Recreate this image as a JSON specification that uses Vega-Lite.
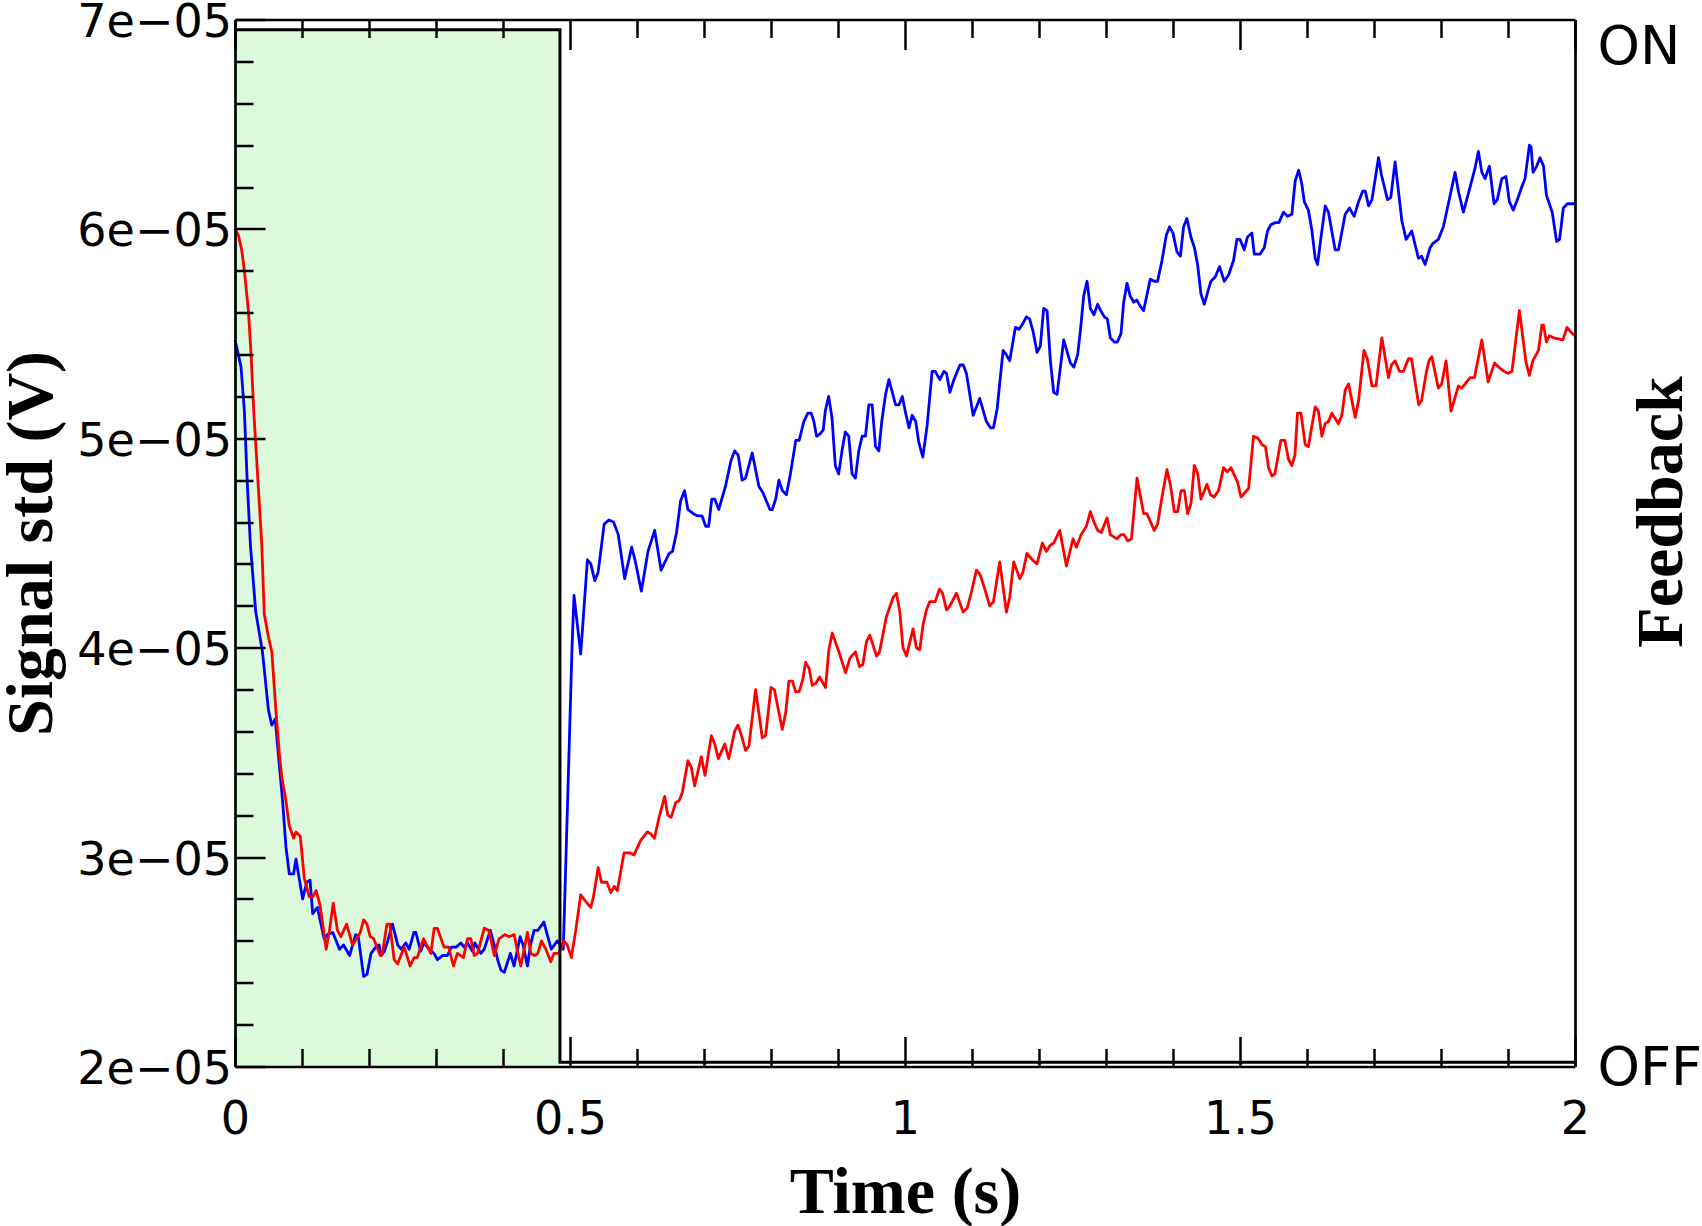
{
"$schema": "https://vega.github.io/schema/vega-lite/v6.json",
"width": 1340, "height": 1047,
"autosize": {"type": "none"},
"padding": {"left": 235, "top": 19.5, "right": 127, "bottom": 159.5},
"background": "white",
"config": {"view": {"stroke": null}},
"datasets": {
"feedback_on": [{"t_start": 0, "t_end": 0.485, "state": 1}],
"feedback": [{"t": 0, "state": 1}, {"t": 0.485, "state": 0}, {"t": 2, "state": 0}],
"signal_a": [
{"t":0,"v":5.47e-5},{"t":0.005,"v":5.40e-5},{"t":0.009,"v":5.34e-5},{"t":0.014,"v":5.13e-5},{"t":0.018,"v":4.81e-5},{"t":0.023,"v":4.49e-5},{"t":0.031,"v":4.17e-5},{"t":0.041,"v":3.98e-5},{"t":0.05,"v":3.70e-5},{"t":0.055,"v":3.63e-5},{"t":0.06,"v":3.66e-5},{"t":0.065,"v":3.48e-5},{"t":0.071,"v":3.27e-5},{"t":0.076,"v":3.05e-5},{"t":0.081,"v":2.92e-5},{"t":0.0875,"v":2.92e-5},{"t":0.091,"v":2.99e-5},{"t":0.101,"v":2.80e-5},{"t":0.107,"v":2.88e-5},{"t":0.112,"v":2.89e-5},{"t":0.116,"v":2.73e-5},{"t":0.123,"v":2.76e-5},{"t":0.133,"v":2.61e-5},{"t":0.138,"v":2.63e-5},{"t":0.146,"v":2.64e-5},{"t":0.156,"v":2.56e-5},{"t":0.162,"v":2.58e-5},{"t":0.171,"v":2.53e-5},{"t":0.18,"v":2.63e-5},{"t":0.184,"v":2.62e-5},{"t":0.192,"v":2.43e-5},{"t":0.197,"v":2.44e-5},{"t":0.203,"v":2.54e-5},{"t":0.21,"v":2.57e-5},{"t":0.215,"v":2.58e-5},{"t":0.218,"v":2.53e-5},{"t":0.223,"v":2.55e-5},{"t":0.228,"v":2.60e-5},{"t":0.235,"v":2.68e-5},{"t":0.243,"v":2.58e-5},{"t":0.248,"v":2.56e-5},{"t":0.255,"v":2.59e-5},{"t":0.26,"v":2.56e-5},{"t":0.267,"v":2.64e-5},{"t":0.27,"v":2.64e-5},{"t":0.277,"v":2.55e-5},{"t":0.282,"v":2.59e-5},{"t":0.29,"v":2.56e-5},{"t":0.297,"v":2.54e-5},{"t":0.302,"v":2.51e-5},{"t":0.31,"v":2.53e-5},{"t":0.317,"v":2.53e-5},{"t":0.323,"v":2.57e-5},{"t":0.33,"v":2.57e-5},{"t":0.337,"v":2.59e-5},{"t":0.342,"v":2.57e-5},{"t":0.347,"v":2.59e-5},{"t":0.3545,"v":2.55e-5},{"t":0.358,"v":2.59e-5},{"t":0.367,"v":2.54e-5},{"t":0.372,"v":2.56e-5},{"t":0.381,"v":2.65e-5},{"t":0.387,"v":2.58e-5},{"t":0.392,"v":2.51e-5},{"t":0.397,"v":2.46e-5},{"t":0.402,"v":2.45e-5},{"t":0.411,"v":2.54e-5},{"t":0.4166,"v":2.48e-5},{"t":0.4255,"v":2.62e-5},{"t":0.43,"v":2.58e-5},{"t":0.4365,"v":2.48e-5},{"t":0.441,"v":2.58e-5},{"t":0.4464,"v":2.65e-5},{"t":0.452,"v":2.65e-5},{"t":0.461,"v":2.69e-5},{"t":0.466,"v":2.63e-5},{"t":0.472,"v":2.56e-5},{"t":0.481,"v":2.60e-5},{"t":0.49,"v":2.56e-5},{"t":0.495,"v":3.11e-5},{"t":0.499,"v":3.55e-5},{"t":0.503,"v":4.00e-5},{"t":0.506,"v":4.25e-5},{"t":0.516,"v":3.97e-5},{"t":0.526,"v":4.42e-5},{"t":0.531,"v":4.40e-5},{"t":0.537,"v":4.32e-5},{"t":0.542,"v":4.36e-5},{"t":0.551,"v":4.59e-5},{"t":0.558,"v":4.61e-5},{"t":0.565,"v":4.60e-5},{"t":0.572,"v":4.54e-5},{"t":0.5816,"v":4.33e-5},{"t":0.592,"v":4.48e-5},{"t":0.597,"v":4.42e-5},{"t":0.6065,"v":4.27e-5},{"t":0.6164,"v":4.46e-5},{"t":0.6264,"v":4.56e-5},{"t":0.636,"v":4.37e-5},{"t":0.648,"v":4.45e-5},{"t":0.653,"v":4.46e-5},{"t":0.659,"v":4.55e-5},{"t":0.665,"v":4.70e-5},{"t":0.671,"v":4.75e-5},{"t":0.676,"v":4.66e-5},{"t":0.684,"v":4.64e-5},{"t":0.69,"v":4.63e-5},{"t":0.697,"v":4.63e-5},{"t":0.7025,"v":4.58e-5},{"t":0.707,"v":4.58e-5},{"t":0.7116,"v":4.71e-5},{"t":0.716,"v":4.71e-5},{"t":0.722,"v":4.66e-5},{"t":0.732,"v":4.77e-5},{"t":0.74,"v":4.89e-5},{"t":0.7457,"v":4.94e-5},{"t":0.751,"v":4.92e-5},{"t":0.757,"v":4.80e-5},{"t":0.762,"v":4.81e-5},{"t":0.772,"v":4.93e-5},{"t":0.782,"v":4.77e-5},{"t":0.788,"v":4.74e-5},{"t":0.7984,"v":4.66e-5},{"t":0.802,"v":4.66e-5},{"t":0.807,"v":4.71e-5},{"t":0.8118,"v":4.80e-5},{"t":0.817,"v":4.75e-5},{"t":0.823,"v":4.73e-5},{"t":0.829,"v":4.83e-5},{"t":0.837,"v":4.99e-5},{"t":0.842,"v":4.99e-5},{"t":0.849,"v":5.08e-5},{"t":0.855,"v":5.12e-5},{"t":0.86,"v":5.12e-5},{"t":0.864,"v":5.08e-5},{"t":0.868,"v":5.01e-5},{"t":0.873,"v":5.02e-5},{"t":0.878,"v":5.04e-5},{"t":0.881,"v":5.13e-5},{"t":0.886,"v":5.20e-5},{"t":0.891,"v":5.10e-5},{"t":0.896,"v":4.87e-5},{"t":0.901,"v":4.83e-5},{"t":0.906,"v":4.94e-5},{"t":0.911,"v":5.03e-5},{"t":0.916,"v":5.01e-5},{"t":0.921,"v":4.83e-5},{"t":0.926,"v":4.81e-5},{"t":0.931,"v":4.94e-5},{"t":0.936,"v":5.01e-5},{"t":0.941,"v":5.01e-5},{"t":0.946,"v":5.16e-5},{"t":0.951,"v":5.16e-5},{"t":0.956,"v":4.96e-5},{"t":0.961,"v":4.94e-5},{"t":0.9653,"v":5.08e-5},{"t":0.971,"v":5.21e-5},{"t":0.976,"v":5.28e-5},{"t":0.981,"v":5.22e-5},{"t":0.986,"v":5.16e-5},{"t":0.991,"v":5.16e-5},{"t":0.996,"v":5.20e-5},{"t":1.001,"v":5.12e-5},{"t":1.006,"v":5.05e-5},{"t":1.0107,"v":5.11e-5},{"t":1.016,"v":5.08e-5},{"t":1.0206,"v":4.98e-5},{"t":1.0266,"v":4.91e-5},{"t":1.033,"v":5.06e-5},{"t":1.0405,"v":5.32e-5},{"t":1.045,"v":5.32e-5},{"t":1.052,"v":5.28e-5},{"t":1.058,"v":5.32e-5},{"t":1.062,"v":5.31e-5},{"t":1.067,"v":5.22e-5},{"t":1.073,"v":5.28e-5},{"t":1.082,"v":5.35e-5},{"t":1.087,"v":5.35e-5},{"t":1.0917,"v":5.31e-5},{"t":1.1017,"v":5.11e-5},{"t":1.1116,"v":5.19e-5},{"t":1.1215,"v":5.08e-5},{"t":1.1275,"v":5.05e-5},{"t":1.132,"v":5.05e-5},{"t":1.1375,"v":5.14e-5},{"t":1.1464,"v":5.42e-5},{"t":1.151,"v":5.40e-5},{"t":1.1563,"v":5.37e-5},{"t":1.1648,"v":5.53e-5},{"t":1.17,"v":5.52e-5},{"t":1.1763,"v":5.55e-5},{"t":1.1812,"v":5.58e-5},{"t":1.186,"v":5.57e-5},{"t":1.1912,"v":5.51e-5},{"t":1.1971,"v":5.41e-5},{"t":1.202,"v":5.44e-5},{"t":1.207,"v":5.62e-5},{"t":1.212,"v":5.61e-5},{"t":1.217,"v":5.37e-5},{"t":1.2219,"v":5.22e-5},{"t":1.227,"v":5.21e-5},{"t":1.2369,"v":5.47e-5},{"t":1.2468,"v":5.36e-5},{"t":1.252,"v":5.34e-5},{"t":1.2577,"v":5.40e-5},{"t":1.262,"v":5.52e-5},{"t":1.2667,"v":5.68e-5},{"t":1.2717,"v":5.75e-5},{"t":1.2767,"v":5.62e-5},{"t":1.282,"v":5.59e-5},{"t":1.2876,"v":5.64e-5},{"t":1.292,"v":5.61e-5},{"t":1.2975,"v":5.58e-5},{"t":1.302,"v":5.57e-5},{"t":1.3065,"v":5.48e-5},{"t":1.3124,"v":5.46e-5},{"t":1.317,"v":5.46e-5},{"t":1.3224,"v":5.50e-5},{"t":1.3264,"v":5.65e-5},{"t":1.3314,"v":5.74e-5},{"t":1.336,"v":5.68e-5},{"t":1.3413,"v":5.65e-5},{"t":1.346,"v":5.66e-5},{"t":1.3512,"v":5.63e-5},{"t":1.3562,"v":5.61e-5},{"t":1.3661,"v":5.76e-5},{"t":1.372,"v":5.75e-5},{"t":1.377,"v":5.75e-5},{"t":1.3836,"v":5.85e-5},{"t":1.39,"v":5.97e-5},{"t":1.3949,"v":6.01e-5},{"t":1.4,"v":5.98e-5},{"t":1.4059,"v":5.89e-5},{"t":1.411,"v":5.87e-5},{"t":1.4158,"v":6.01e-5},{"t":1.4208,"v":6.05e-5},{"t":1.4268,"v":5.96e-5},{"t":1.432,"v":5.91e-5},{"t":1.4367,"v":5.83e-5},{"t":1.4417,"v":5.69e-5},{"t":1.4467,"v":5.64e-5},{"t":1.452,"v":5.70e-5},{"t":1.4566,"v":5.75e-5},{"t":1.463,"v":5.77e-5},{"t":1.4695,"v":5.82e-5},{"t":1.4765,"v":5.75e-5},{"t":1.483,"v":5.78e-5},{"t":1.4904,"v":5.85e-5},{"t":1.4954,"v":5.95e-5},{"t":1.5,"v":5.95e-5},{"t":1.5064,"v":5.90e-5},{"t":1.511,"v":5.96e-5},{"t":1.5178,"v":5.98e-5},{"t":1.5213,"v":5.88e-5},{"t":1.53,"v":5.88e-5},{"t":1.5362,"v":5.91e-5},{"t":1.5411,"v":5.99e-5},{"t":1.546,"v":6.02e-5},{"t":1.5526,"v":6.03e-5},{"t":1.558,"v":6.03e-5},{"t":1.565,"v":6.08e-5},{"t":1.571,"v":6.06e-5},{"t":1.5774,"v":6.07e-5},{"t":1.5824,"v":6.23e-5},{"t":1.5876,"v":6.28e-5},{"t":1.592,"v":6.22e-5},{"t":1.596,"v":6.13e-5},{"t":1.602,"v":6.09e-5},{"t":1.607,"v":6.00e-5},{"t":1.6122,"v":5.86e-5},{"t":1.6157,"v":5.83e-5},{"t":1.6205,"v":5.95e-5},{"t":1.6272,"v":6.11e-5},{"t":1.632,"v":6.08e-5},{"t":1.642,"v":5.90e-5},{"t":1.647,"v":5.90e-5},{"t":1.657,"v":6.07e-5},{"t":1.6634,"v":6.10e-5},{"t":1.6704,"v":6.06e-5},{"t":1.677,"v":6.13e-5},{"t":1.683,"v":6.18e-5},{"t":1.687,"v":6.18e-5},{"t":1.692,"v":6.11e-5},{"t":1.697,"v":6.14e-5},{"t":1.7067,"v":6.34e-5},{"t":1.711,"v":6.26e-5},{"t":1.7201,"v":6.14e-5},{"t":1.725,"v":6.15e-5},{"t":1.7315,"v":6.32e-5},{"t":1.7415,"v":6.04e-5},{"t":1.7479,"v":5.95e-5},{"t":1.7564,"v":5.99e-5},{"t":1.7663,"v":5.86e-5},{"t":1.771,"v":5.87e-5},{"t":1.7763,"v":5.83e-5},{"t":1.7837,"v":5.91e-5},{"t":1.7877,"v":5.93e-5},{"t":1.796,"v":5.95e-5},{"t":1.8036,"v":6.01e-5},{"t":1.811,"v":6.12e-5},{"t":1.821,"v":6.27e-5},{"t":1.826,"v":6.18e-5},{"t":1.8334,"v":6.08e-5},{"t":1.8434,"v":6.20e-5},{"t":1.8508,"v":6.29e-5},{"t":1.8558,"v":6.37e-5},{"t":1.861,"v":6.27e-5},{"t":1.8658,"v":6.24e-5},{"t":1.8723,"v":6.30e-5},{"t":1.8792,"v":6.12e-5},{"t":1.884,"v":6.14e-5},{"t":1.8907,"v":6.24e-5},{"t":1.897,"v":6.25e-5},{"t":1.902,"v":6.13e-5},{"t":1.908,"v":6.09e-5},{"t":1.914,"v":6.14e-5},{"t":1.9205,"v":6.20e-5},{"t":1.9254,"v":6.24e-5},{"t":1.932,"v":6.40e-5},{"t":1.9345,"v":6.39e-5},{"t":1.9374,"v":6.27e-5},{"t":1.9428,"v":6.30e-5},{"t":1.9478,"v":6.34e-5},{"t":1.953,"v":6.30e-5},{"t":1.9574,"v":6.16e-5},{"t":1.966,"v":6.08e-5},{"t":1.9726,"v":5.94e-5},{"t":1.977,"v":5.95e-5},{"t":1.9826,"v":6.10e-5},{"t":1.9886,"v":6.12e-5},{"t":2.0,"v":6.12e-5}
],
"signal_b": [
{"t":0,"v":6.00e-5},{"t":0.005,"v":5.97e-5},{"t":0.01,"v":5.90e-5},{"t":0.014,"v":5.80e-5},{"t":0.02,"v":5.61e-5},{"t":0.024,"v":5.40e-5},{"t":0.028,"v":5.13e-5},{"t":0.034,"v":4.81e-5},{"t":0.04,"v":4.49e-5},{"t":0.0437,"v":4.16e-5},{"t":0.05,"v":4.05e-5},{"t":0.055,"v":3.98e-5},{"t":0.061,"v":3.70e-5},{"t":0.066,"v":3.50e-5},{"t":0.07,"v":3.38e-5},{"t":0.076,"v":3.27e-5},{"t":0.081,"v":3.15e-5},{"t":0.0875,"v":3.09e-5},{"t":0.091,"v":3.12e-5},{"t":0.0974,"v":3.10e-5},{"t":0.1034,"v":2.90e-5},{"t":0.111,"v":2.81e-5},{"t":0.116,"v":2.81e-5},{"t":0.121,"v":2.84e-5},{"t":0.127,"v":2.77e-5},{"t":0.136,"v":2.56e-5},{"t":0.141,"v":2.65e-5},{"t":0.1466,"v":2.78e-5},{"t":0.153,"v":2.65e-5},{"t":0.158,"v":2.62e-5},{"t":0.1666,"v":2.68e-5},{"t":0.1755,"v":2.58e-5},{"t":0.183,"v":2.62e-5},{"t":0.187,"v":2.64e-5},{"t":0.192,"v":2.70e-5},{"t":0.197,"v":2.68e-5},{"t":0.2018,"v":2.62e-5},{"t":0.207,"v":2.61e-5},{"t":0.2167,"v":2.53e-5},{"t":0.22,"v":2.54e-5},{"t":0.2267,"v":2.68e-5},{"t":0.231,"v":2.68e-5},{"t":0.2376,"v":2.51e-5},{"t":0.2426,"v":2.49e-5},{"t":0.2525,"v":2.57e-5},{"t":0.2614,"v":2.48e-5},{"t":0.2674,"v":2.52e-5},{"t":0.272,"v":2.52e-5},{"t":0.2814,"v":2.61e-5},{"t":0.2923,"v":2.54e-5},{"t":0.2973,"v":2.66e-5},{"t":0.302,"v":2.66e-5},{"t":0.312,"v":2.57e-5},{"t":0.319,"v":2.57e-5},{"t":0.326,"v":2.48e-5},{"t":0.332,"v":2.54e-5},{"t":0.341,"v":2.52e-5},{"t":0.347,"v":2.61e-5},{"t":0.352,"v":2.61e-5},{"t":0.357,"v":2.53e-5},{"t":0.362,"v":2.54e-5},{"t":0.372,"v":2.66e-5},{"t":0.379,"v":2.65e-5},{"t":0.387,"v":2.53e-5},{"t":0.394,"v":2.61e-5},{"t":0.4027,"v":2.63e-5},{"t":0.409,"v":2.62e-5},{"t":0.4166,"v":2.63e-5},{"t":0.4216,"v":2.55e-5},{"t":0.4265,"v":2.48e-5},{"t":0.431,"v":2.55e-5},{"t":0.4365,"v":2.64e-5},{"t":0.4415,"v":2.54e-5},{"t":0.447,"v":2.53e-5},{"t":0.452,"v":2.54e-5},{"t":0.4574,"v":2.60e-5},{"t":0.464,"v":2.56e-5},{"t":0.4713,"v":2.50e-5},{"t":0.476,"v":2.54e-5},{"t":0.483,"v":2.54e-5},{"t":0.491,"v":2.60e-5},{"t":0.496,"v":2.58e-5},{"t":0.502,"v":2.52e-5},{"t":0.5086,"v":2.65e-5},{"t":0.516,"v":2.82e-5},{"t":0.523,"v":2.79e-5},{"t":0.531,"v":2.76e-5},{"t":0.535,"v":2.81e-5},{"t":0.542,"v":2.95e-5},{"t":0.547,"v":2.88e-5},{"t":0.555,"v":2.88e-5},{"t":0.561,"v":2.83e-5},{"t":0.566,"v":2.86e-5},{"t":0.5707,"v":2.84e-5},{"t":0.5806,"v":3.02e-5},{"t":0.59,"v":3.02e-5},{"t":0.5955,"v":3.01e-5},{"t":0.6055,"v":3.08e-5},{"t":0.6155,"v":3.12e-5},{"t":0.621,"v":3.11e-5},{"t":0.626,"v":3.09e-5},{"t":0.633,"v":3.19e-5},{"t":0.6413,"v":3.29e-5},{"t":0.646,"v":3.20e-5},{"t":0.651,"v":3.19e-5},{"t":0.6577,"v":3.26e-5},{"t":0.663,"v":3.27e-5},{"t":0.6677,"v":3.31e-5},{"t":0.676,"v":3.46e-5},{"t":0.681,"v":3.43e-5},{"t":0.686,"v":3.34e-5},{"t":0.696,"v":3.48e-5},{"t":0.7015,"v":3.39e-5},{"t":0.711,"v":3.58e-5},{"t":0.716,"v":3.54e-5},{"t":0.7214,"v":3.47e-5},{"t":0.731,"v":3.54e-5},{"t":0.737,"v":3.47e-5},{"t":0.7457,"v":3.60e-5},{"t":0.7507,"v":3.63e-5},{"t":0.756,"v":3.58e-5},{"t":0.762,"v":3.51e-5},{"t":0.767,"v":3.53e-5},{"t":0.777,"v":3.80e-5},{"t":0.787,"v":3.57e-5},{"t":0.792,"v":3.58e-5},{"t":0.8,"v":3.81e-5},{"t":0.805,"v":3.80e-5},{"t":0.8168,"v":3.61e-5},{"t":0.822,"v":3.69e-5},{"t":0.8267,"v":3.84e-5},{"t":0.832,"v":3.84e-5},{"t":0.8367,"v":3.79e-5},{"t":0.842,"v":3.79e-5},{"t":0.8476,"v":3.85e-5},{"t":0.8516,"v":3.93e-5},{"t":0.857,"v":3.90e-5},{"t":0.8616,"v":3.82e-5},{"t":0.867,"v":3.83e-5},{"t":0.8725,"v":3.86e-5},{"t":0.8814,"v":3.81e-5},{"t":0.8864,"v":3.99e-5},{"t":0.8914,"v":4.07e-5},{"t":0.9014,"v":3.98e-5},{"t":0.9113,"v":3.88e-5},{"t":0.9178,"v":3.95e-5},{"t":0.926,"v":3.98e-5},{"t":0.932,"v":3.91e-5},{"t":0.937,"v":3.92e-5},{"t":0.9426,"v":4.03e-5},{"t":0.9475,"v":4.06e-5},{"t":0.9575,"v":3.96e-5},{"t":0.962,"v":3.98e-5},{"t":0.9724,"v":4.15e-5},{"t":0.9823,"v":4.24e-5},{"t":0.9873,"v":4.26e-5},{"t":0.9923,"v":4.17e-5},{"t":0.997,"v":4.00e-5},{"t":1.0022,"v":3.96e-5},{"t":1.012,"v":4.09e-5},{"t":1.017,"v":4.00e-5},{"t":1.022,"v":3.99e-5},{"t":1.027,"v":4.11e-5},{"t":1.032,"v":4.18e-5},{"t":1.037,"v":4.22e-5},{"t":1.045,"v":4.22e-5},{"t":1.0515,"v":4.28e-5},{"t":1.056,"v":4.26e-5},{"t":1.062,"v":4.18e-5},{"t":1.067,"v":4.20e-5},{"t":1.0768,"v":4.26e-5},{"t":1.0868,"v":4.17e-5},{"t":1.093,"v":4.19e-5},{"t":1.0987,"v":4.26e-5},{"t":1.1066,"v":4.37e-5},{"t":1.112,"v":4.35e-5},{"t":1.12,"v":4.27e-5},{"t":1.1265,"v":4.20e-5},{"t":1.132,"v":4.22e-5},{"t":1.1414,"v":4.41e-5},{"t":1.1514,"v":4.17e-5},{"t":1.1563,"v":4.24e-5},{"t":1.1623,"v":4.41e-5},{"t":1.1713,"v":4.33e-5},{"t":1.176,"v":4.36e-5},{"t":1.182,"v":4.45e-5},{"t":1.19,"v":4.42e-5},{"t":1.197,"v":4.40e-5},{"t":1.205,"v":4.50e-5},{"t":1.211,"v":4.46e-5},{"t":1.217,"v":4.49e-5},{"t":1.222,"v":4.50e-5},{"t":1.231,"v":4.56e-5},{"t":1.2409,"v":4.39e-5},{"t":1.2508,"v":4.52e-5},{"t":1.2558,"v":4.48e-5},{"t":1.2628,"v":4.54e-5},{"t":1.2707,"v":4.58e-5},{"t":1.2767,"v":4.65e-5},{"t":1.282,"v":4.60e-5},{"t":1.2876,"v":4.56e-5},{"t":1.293,"v":4.55e-5},{"t":1.3015,"v":4.62e-5},{"t":1.3065,"v":4.54e-5},{"t":1.3164,"v":4.52e-5},{"t":1.322,"v":4.54e-5},{"t":1.327,"v":4.54e-5},{"t":1.3323,"v":4.51e-5},{"t":1.338,"v":4.52e-5},{"t":1.3463,"v":4.81e-5},{"t":1.3562,"v":4.64e-5},{"t":1.361,"v":4.64e-5},{"t":1.372,"v":4.56e-5},{"t":1.377,"v":4.59e-5},{"t":1.3836,"v":4.72e-5},{"t":1.391,"v":4.85e-5},{"t":1.396,"v":4.78e-5},{"t":1.402,"v":4.65e-5},{"t":1.407,"v":4.65e-5},{"t":1.412,"v":4.75e-5},{"t":1.417,"v":4.75e-5},{"t":1.4218,"v":4.64e-5},{"t":1.427,"v":4.69e-5},{"t":1.4318,"v":4.87e-5},{"t":1.437,"v":4.83e-5},{"t":1.4417,"v":4.71e-5},{"t":1.4507,"v":4.78e-5},{"t":1.456,"v":4.73e-5},{"t":1.4616,"v":4.72e-5},{"t":1.468,"v":4.75e-5},{"t":1.4755,"v":4.86e-5},{"t":1.481,"v":4.84e-5},{"t":1.4865,"v":4.86e-5},{"t":1.4964,"v":4.79e-5},{"t":1.5014,"v":4.72e-5},{"t":1.5128,"v":4.76e-5},{"t":1.5202,"v":5.01e-5},{"t":1.527,"v":5.00e-5},{"t":1.5327,"v":4.97e-5},{"t":1.538,"v":4.96e-5},{"t":1.5426,"v":4.86e-5},{"t":1.5476,"v":4.82e-5},{"t":1.552,"v":4.83e-5},{"t":1.561,"v":4.99e-5},{"t":1.567,"v":4.99e-5},{"t":1.5724,"v":4.90e-5},{"t":1.5774,"v":4.87e-5},{"t":1.582,"v":4.92e-5},{"t":1.5858,"v":5.12e-5},{"t":1.591,"v":5.12e-5},{"t":1.5973,"v":4.97e-5},{"t":1.602,"v":4.96e-5},{"t":1.6122,"v":5.15e-5},{"t":1.617,"v":5.13e-5},{"t":1.6222,"v":5.01e-5},{"t":1.627,"v":5.07e-5},{"t":1.632,"v":5.08e-5},{"t":1.637,"v":5.12e-5},{"t":1.647,"v":5.07e-5},{"t":1.652,"v":5.11e-5},{"t":1.657,"v":5.23e-5},{"t":1.662,"v":5.26e-5},{"t":1.672,"v":5.10e-5},{"t":1.677,"v":5.18e-5},{"t":1.685,"v":5.42e-5},{"t":1.69,"v":5.38e-5},{"t":1.697,"v":5.25e-5},{"t":1.703,"v":5.25e-5},{"t":1.7117,"v":5.48e-5},{"t":1.7216,"v":5.29e-5},{"t":1.726,"v":5.35e-5},{"t":1.7315,"v":5.37e-5},{"t":1.738,"v":5.32e-5},{"t":1.744,"v":5.32e-5},{"t":1.7514,"v":5.38e-5},{"t":1.756,"v":5.38e-5},{"t":1.7667,"v":5.16e-5},{"t":1.771,"v":5.18e-5},{"t":1.7778,"v":5.31e-5},{"t":1.782,"v":5.37e-5},{"t":1.7863,"v":5.39e-5},{"t":1.796,"v":5.24e-5},{"t":1.801,"v":5.26e-5},{"t":1.8076,"v":5.37e-5},{"t":1.815,"v":5.13e-5},{"t":1.826,"v":5.25e-5},{"t":1.831,"v":5.24e-5},{"t":1.8434,"v":5.29e-5},{"t":1.85,"v":5.29e-5},{"t":1.861,"v":5.47e-5},{"t":1.8703,"v":5.27e-5},{"t":1.88,"v":5.36e-5},{"t":1.886,"v":5.34e-5},{"t":1.8941,"v":5.32e-5},{"t":1.9,"v":5.31e-5},{"t":1.906,"v":5.32e-5},{"t":1.917,"v":5.61e-5},{"t":1.927,"v":5.36e-5},{"t":1.932,"v":5.30e-5},{"t":1.937,"v":5.37e-5},{"t":1.9455,"v":5.42e-5},{"t":1.9505,"v":5.54e-5},{"t":1.953,"v":5.54e-5},{"t":1.9574,"v":5.46e-5},{"t":1.962,"v":5.49e-5},{"t":1.968,"v":5.48e-5},{"t":1.982,"v":5.47e-5},{"t":1.988,"v":5.53e-5},{"t":1.996,"v":5.50e-5},{"t":2.0,"v":5.49e-5}
]
},
"layer": [
{
"data": {"name": "feedback_on"},
"mark": {"type": "rect", "fill": "#dcf9dc", "stroke": null},
"encoding": {
"x": {"field": "t_start", "type": "quantitative", "scale": {"domain": [0, 2], "nice": false, "zero": false},
"axis": {"orient": "bottom", "zindex": 1, "grid": false,
"values": [0,0.1,0.2,0.3,0.4,0.5,0.6,0.7,0.8,0.9,1,1.1,1.2,1.3,1.4,1.5,1.6,1.7,1.8,1.9,2],
"domain": true, "domainColor": "black", "domainWidth": 2.7,
"ticks": true, "tickColor": "black", "tickWidth": 2.5,
"tickSize": {"condition": {"test": "abs(datum.value*2 - round(datum.value*2)) < 1e-6", "value": -30}, "value": -18},
"labelExpr": "abs(datum.value*2 - round(datum.value*2)) < 1e-6 ? format(datum.value, '~g') : ''",
"labelFont": "DejaVu Sans", "labelFontSize": 46, "labelColor": "black", "labelPadding": 61,
"labelFlush": false, "labelOverlap": false, "labelBound": false,
"title": "Time (s)", "titleFont": "Liberation Serif", "titleFontWeight": "bold", "titleFontSize": 66, "titleColor": "black",
"titleBaseline": "alphabetic", "titleY": 145.5}},
"x2": {"field": "t_end"},
"y": {"field": "state", "type": "quantitative", "scale": {"domain": [-0.004, 1.01], "nice": false, "zero": false},
"axis": {"orient": "right", "zindex": 1, "grid": false, "values": [0, 1],
"domain": true, "domainColor": "black", "domainWidth": 2.7, "ticks": false,
"labelExpr": "datum.value > 0.5 ? 'ON' : 'OFF'",
"labelFont": "DejaVu Sans", "labelFontSize": 54, "labelColor": "black", "labelPadding": 22,
"labelAlign": "left", "labelBaseline": "middle",
"labelOffset": {"condition": {"test": "datum.value > 0.5", "value": 18}, "value": 6},
"labelFlush": false, "labelOverlap": false, "labelBound": false,
"title": "Feedback", "titleFont": "Liberation Serif", "titleFontWeight": "bold", "titleFontSize": 66, "titleColor": "black",
"titleAngle": 270, "titleBaseline": "alphabetic", "titleX": 106, "titleY": 492}},
"y2": {"datum": -0.004}
}
},
{
"data": {"name": "signal_a"},
"mark": {"type": "line", "color": "#0000ff", "strokeWidth": 2.8, "strokeJoin": "round"},
"encoding": {
"x": {"field": "t", "type": "quantitative", "scale": {"domain": [0, 2], "nice": false, "zero": false},
"axis": {"orient": "top", "zindex": 1, "grid": false,
"values": [0,0.1,0.2,0.3,0.4,0.5,0.6,0.7,0.8,0.9,1,1.1,1.2,1.3,1.4,1.5,1.6,1.7,1.8,1.9,2],
"domain": true, "domainColor": "black", "domainWidth": 2.7,
"ticks": true, "tickColor": "black", "tickWidth": 2.5,
"tickSize": {"condition": {"test": "abs(datum.value*2 - round(datum.value*2)) < 1e-6", "value": -30}, "value": -18},
"labels": false, "title": null}},
"y": {"field": "v", "type": "quantitative", "scale": {"domain": [2e-5, 7e-5], "nice": false, "zero": false},
"axis": {"orient": "left", "zindex": 1, "grid": false,
"values": [2.0e-5,2.2e-5,2.4e-5,2.6e-5,2.8e-5,3.0e-5,3.2e-5,3.4e-5,3.6e-5,3.8e-5,4.0e-5,4.2e-5,4.4e-5,4.6e-5,4.8e-5,5.0e-5,5.2e-5,5.4e-5,5.6e-5,5.8e-5,6.0e-5,6.2e-5,6.4e-5,6.6e-5,6.8e-5,7.0e-5],
"domain": true, "domainColor": "black", "domainWidth": 2.7,
"ticks": true, "tickColor": "black", "tickWidth": 2.5,
"tickSize": {"condition": {"test": "abs(datum.value*1e5 - round(datum.value*1e5)) < 1e-3", "value": -30}, "value": -18},
"labelExpr": "abs(datum.value*1e5 - round(datum.value*1e5)) < 1e-3 ? round(datum.value*1e5) + 'e\u221205' : ''",
"labelFont": "DejaVu Sans", "labelFontSize": 46, "labelColor": "black", "labelPadding": 33.5,
"labelAlign": "right", "labelBaseline": "middle", "labelOffset": 3,
"labelFlush": false, "labelOverlap": false, "labelBound": false,
"title": "Signal std (V)", "titleFont": "Liberation Serif", "titleFontWeight": "bold", "titleFontSize": 66, "titleColor": "black",
"titleAngle": 270, "titleBaseline": "alphabetic", "titleX": -184}}
}
},
{
"data": {"name": "signal_b"},
"mark": {"type": "line", "color": "#ff0000", "strokeWidth": 2.8, "strokeJoin": "round"},
"encoding": {
"x": {"field": "t", "type": "quantitative", "scale": {"domain": [0, 2], "nice": false, "zero": false}, "axis": null},
"y": {"field": "v", "type": "quantitative", "scale": {"domain": [2e-5, 7e-5], "nice": false, "zero": false}, "axis": null}
}
},
{
"data": {"name": "feedback"},
"mark": {"type": "line", "interpolate": "step-after", "color": "black", "strokeWidth": 3},
"encoding": {
"x": {"field": "t", "type": "quantitative", "scale": {"domain": [0, 2], "nice": false, "zero": false}, "axis": null},
"y": {"field": "state", "type": "quantitative", "scale": {"domain": [-0.004, 1.01], "nice": false, "zero": false}, "axis": null}
}
}
],
"resolve": {"scale": {"y": "independent"}, "axis": {"x": "independent", "y": "independent"}}
}
